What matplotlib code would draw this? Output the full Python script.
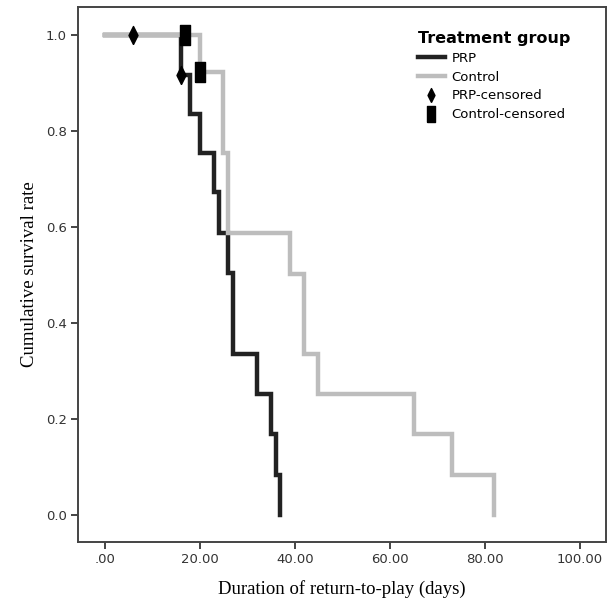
import matplotlib
matplotlib.use("Agg")
import matplotlib.pyplot as plt
from matplotlib.lines import Line2D

# ------------------------ Data ------------------------
prp_time = [0, 16, 18, 20, 23, 24, 26, 27, 32, 35, 36, 37]
prp_surv = [1.0, 0.917, 0.836, 0.755, 0.672, 0.588, 0.504, 0.336, 0.252, 0.168, 0.084, 0.0]

ctrl_time = [0, 20, 25, 26, 39, 42, 45, 65, 73, 82]
ctrl_surv = [1.0, 0.923, 0.755, 0.587, 0.503, 0.336, 0.252, 0.168, 0.084, 0.0]

prp_cens_time = [6, 16]
prp_cens_surv = [1.0, 0.917]
ctrl_cens_time = [17, 20]
ctrl_cens_surv = [1.0, 0.923]

x_ticks = [0, 20, 40, 60, 80, 100]
x_labels = [".00", "20.00", "40.00", "60.00", "80.00", "100.00"]
y_ticks = [0.0, 0.2, 0.4, 0.6, 0.8, 1.0]
y_labels = ["0.0", "0.2", "0.4", "0.6", "0.8", "1.0"]

# ------------------------ Styles ------------------------
PRP_COLOR = "#222222"
CTRL_COLOR = "#bdbdbd"
DIAMOND = [(0, -2), (1, 0), (0, 2), (-1, 0), (0, -2)]
TALL_BOX = [(-1, -2), (1, -2), (1, 2), (-1, 2), (-1, -2)]

fig = plt.figure(figsize=(6.16, 6.03), dpi=100)
ax = fig.add_axes([0.1266, 0.1012, 0.8572, 0.8872])

ax.step(prp_time, prp_surv, where="post", color=PRP_COLOR, lw=3.2, solid_joinstyle="miter")
ax.step(ctrl_time, ctrl_surv, where="post", color=CTRL_COLOR, lw=3.2, solid_joinstyle="miter")

ax.plot(prp_cens_time, prp_cens_surv, linestyle="none", marker=DIAMOND,
        markersize=13, color="black")
ax.plot(ctrl_cens_time, ctrl_cens_surv, linestyle="none", marker=TALL_BOX,
        markersize=15, color="black")

ax.set_xlim(-5.6, 105.5)
ax.set_ylim(-0.056, 1.058)
ax.set_xticks(x_ticks)
ax.set_xticklabels(x_labels)
ax.set_yticks(y_ticks)
ax.set_yticklabels(y_labels)

for s in ax.spines.values():
    s.set_color("#444444")
    s.set_linewidth(1.4)
ax.tick_params(direction="out", length=5, width=1.4, color="#444444",
               labelsize=9.5, labelcolor="#333333", pad=3)
for lbl in ax.get_xticklabels() + ax.get_yticklabels():
    lbl.set_family("DejaVu Sans")

ax.set_xlabel("Duration of return-to-play (days)", family="Liberation Serif",
              fontsize=13.5, labelpad=10)
ax.set_ylabel("Cumulative survival rate", family="Liberation Serif",
              fontsize=13.5, labelpad=6)

handles = [
    Line2D([], [], color=PRP_COLOR, lw=3.2),
    Line2D([], [], color=CTRL_COLOR, lw=3.2),
    Line2D([], [], linestyle="none", marker=DIAMOND, markersize=10, color="black"),
    Line2D([], [], linestyle="none", marker=TALL_BOX, markersize=11, color="black"),
]
names = ["PRP", "Control", "PRP-censored", "Control-censored"]
leg = ax.legend(handles, names, title="Treatment group", loc="upper left",
                bbox_to_anchor=(0.622, 0.978), frameon=False, fontsize=9.5,
                handlelength=2.0, handletextpad=0.5, labelspacing=0.45,
                title_fontproperties={"weight": "bold", "size": 11.5})
leg._legend_box.align = "left"

fig.savefig("out.png", dpi=100)
